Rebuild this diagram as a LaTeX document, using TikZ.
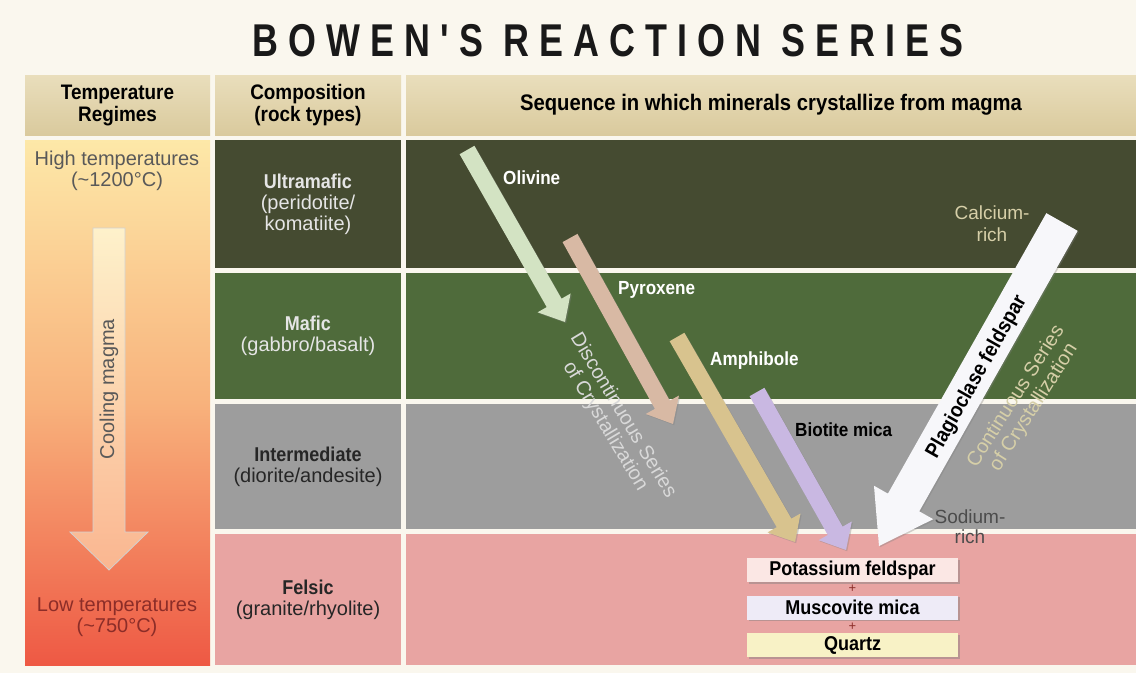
\documentclass[tikz,border=0pt]{standalone}
\usepackage{fontspec}
\setmainfont{Liberation Sans}
\newfontfamily\condfont[FakeStretch=0.9]{Liberation Sans}
\newfontfamily\titlefont[FakeStretch=0.78,LetterSpace=22]{Liberation Sans}
\usetikzlibrary{calc,shadows}

\definecolor{paper}{HTML}{FAF7EE}
\definecolor{headtop}{HTML}{E9DEBC}
\definecolor{headbot}{HTML}{DACA9D}
\definecolor{ultra}{HTML}{454B31}
\definecolor{mafic}{HTML}{4F6B3B}
\definecolor{inter}{HTML}{9D9D9D}
\definecolor{felsic}{HTML}{E8A4A2}
\definecolor{hot}{HTML}{FDE8A8}
\definecolor{warm}{HTML}{F8B27C}
\definecolor{cool}{HTML}{EE5944}
\definecolor{olivine}{HTML}{D3E3C3}
\definecolor{pyroxene}{HTML}{D8B9A4}
\definecolor{amphibole}{HTML}{D8C38E}
\definecolor{biotite}{HTML}{C9B8E2}
\definecolor{plag}{HTML}{F7F7FA}
\definecolor{calctext}{HTML}{D6CFA8}
\definecolor{lowtext}{HTML}{8C2D28}
\definecolor{potash}{HTML}{FBE7E4}
\definecolor{muscovite}{HTML}{EEEBF7}
\definecolor{quartz}{HTML}{F8F2C6}

\newcommand{\rockname}[1]{{\condfont\bfseries #1}}
% block arrow: tail, tip, half shaft, half head, head length, style
\newcommand{\blockarrow}[6]{%
  \coordinate (neck) at ($(#2)!#5!(#1)$);
  \path[#6] ($(#1)!#3!90:(#2)$) -- ($(neck)!#3!90:(#2)$) -- ($(neck)!#4!90:(#2)$)
    -- (#2) -- ($(neck)!#4!-90:(#2)$) -- ($(neck)!#3!-90:(#2)$) -- ($(#1)!#3!-90:(#2)$) -- cycle;
}

\begin{document}
\begin{tikzpicture}[x=1pt,y=-1pt,
    cell/.style={inner sep=0pt, align=center},
    headcell/.style={cell, top color=headtop, bottom color=headbot, minimum height=60pt,
      font=\condfont\bfseries\fontsize{21}{22}\selectfont},
    rock/.style={cell, font=\fontsize{20}{21}\selectfont},
    mineral/.style={anchor=west, inner sep=0pt, text=white, font=\condfont\bfseries\fontsize{19}{20}\selectfont},
    series/.style={align=center, inner sep=0pt, font=\fontsize{20}{21}\selectfont},
    product/.style={minimum width=211pt, minimum height=24pt, inner sep=0pt,
      font=\condfont\bfseries\fontsize{20}{20}\selectfont,
      drop shadow={shadow xshift=1.5pt,shadow yshift=-1.5pt,opacity=0.45}},
    soft/.style={drop shadow={shadow xshift=1.2pt,shadow yshift=-1.2pt,opacity=0.35}}
  ]
  \fill[paper] (0,0) rectangle (1136,673);
  \useasboundingbox (0,0) rectangle (1136,673);

  % title
  \node[font=\titlefont\bfseries\fontsize{46}{50}\selectfont, text=black!90] (title) at (608,41) {BOWEN'S REACTION SERIES};

  % header row
  \node[headcell, minimum width=185pt] (htemp) at (117.5,105) {Temperature\\Regimes};
  \node[headcell, minimum width=186pt] (hcomp) at (308,105) {Composition\\(rock types)};
  \node[headcell, minimum width=730pt, font=\condfont\bfseries\fontsize{22.5}{23}\selectfont] (hseq) at (771,105) {Sequence in which minerals crystallize from magma};

  % temperature column
  \node[cell, minimum width=185pt, minimum height=525pt, top color=hot, bottom color=cool, middle color=warm] (temp) at (117.5,402.5) {};
  \node[rock, text=black!65] (high) at (117,171) {High temperatures\\(\textasciitilde1200°C)};
  \node[rock, text=lowtext] (low) at (117,617) {Low temperatures\\(\textasciitilde750°C)};
  \coordinate (cooltail) at (109,228);
  \coordinate (cooltip) at (109,570);
  \blockarrow{cooltail}{cooltip}{16pt}{39pt}{38pt}{top color=hot!60!white, bottom color=warm!70!pink, draw=black!18, line width=0.8pt}
  \node[rock, rotate=90, text=black!65] (cooling) at (109,389) {Cooling magma};

  % composition column
  \node[rock, minimum width=186pt, minimum height=128pt, fill=ultra, text=white!90!black] (ultra) at (308,204) {\rockname{Ultramafic}\\(peridotite/\\komatiite)};
  \node[rock, minimum width=186pt, minimum height=126pt, fill=mafic, text=white!90!black] (mafic) at (308,336) {\rockname{Mafic}\\(gabbro/basalt)};
  \node[rock, minimum width=186pt, minimum height=125pt, fill=inter, text=black!85] (inter) at (308,466.5) {\rockname{Intermediate}\\(diorite/andesite)};
  \node[rock, minimum width=186pt, minimum height=131pt, fill=felsic, text=black!85] (felsic) at (308,599.5) {\rockname{Felsic}\\(granite/rhyolite)};

  % sequence column
  \foreach \nm/\col/\yc/\h in {ultraseq/ultra/204/128, maficseq/mafic/336/126, interseq/inter/466.5/125, felsicseq/felsic/599.5/131}
    \node[cell, minimum width=730pt, minimum height=\h pt, fill=\col] (\nm) at (771,\yc) {};

  % discontinuous branch
  \coordinate (oltail) at (467,150);   \coordinate (oltip) at (565,322);
  \coordinate (pxtail) at (570,238);   \coordinate (pxtip) at (673,424);
  \coordinate (amtail) at (677,337);   \coordinate (amtip) at (795,542);
  \coordinate (bitail) at (757,392);   \coordinate (bitip) at (846,550);
  \blockarrow{oltail}{oltip}{8.5pt}{19pt}{22pt}{fill=olivine, soft}
  \blockarrow{pxtail}{pxtip}{8.5pt}{19pt}{22pt}{fill=pyroxene, soft}
  \blockarrow{amtail}{amtip}{8.5pt}{19pt}{22pt}{fill=amphibole, soft}
  \blockarrow{bitail}{bitip}{8.5pt}{19pt}{22pt}{fill=biotite, soft}
  \node[mineral] (olivine) at (503,178) {Olivine};
  \node[mineral] (pyroxene) at (618,290) {Pyroxene};
  \node[mineral] (amphibole) at (710,361) {Amphibole};
  \node[mineral, text=black] (biotite) at (795,430) {Biotite mica};
  \node[series, rotate=-59, text=white!85!black] (discont) at (614,421) {Discontinuous Series\\of Crystallization};

  % continuous branch
  \coordinate (pltail) at (1062,222);  \coordinate (pltip) at (879,546);
  \blockarrow{pltail}{pltip}{18pt}{34pt}{50pt}{fill=plag, soft}
  \node[mineral, anchor=center, text=black, rotate=60.5, font=\condfont\bfseries\fontsize{21}{22}\selectfont] (plagio) at (977,377) {Plagioclase feldspar};
  \node[series, rotate=57.5, text=calctext] (cont) at (1025,402) {Continuous Series\\of Crystallization};
  \node[series, text=calctext, font=\fontsize{19}{22}\selectfont] (calcium) at (992,224) {Calcium-\\rich};
  \node[series, text=black!70, font=\fontsize{19}{20}\selectfont] (sodium) at (970,527) {Sodium-\\rich};

  % final minerals
  \node[product, fill=potash] (kspar) at (852.5,570) {Potassium feldspar};
  \node[product, fill=muscovite] (musc) at (852.5,607.5) {Muscovite mica};
  \node[product, fill=quartz] (quartz) at (852.5,645) {Quartz};
  \node[inner sep=0pt, font=\fontsize{13}{13}\selectfont, text=lowtext] (plusa) at ($(kspar)!0.5!(musc)$) {+};
  \node[inner sep=0pt, font=\fontsize{13}{13}\selectfont, text=lowtext] (plusb) at ($(musc)!0.5!(quartz)$) {+};
\end{tikzpicture}
\end{document}
